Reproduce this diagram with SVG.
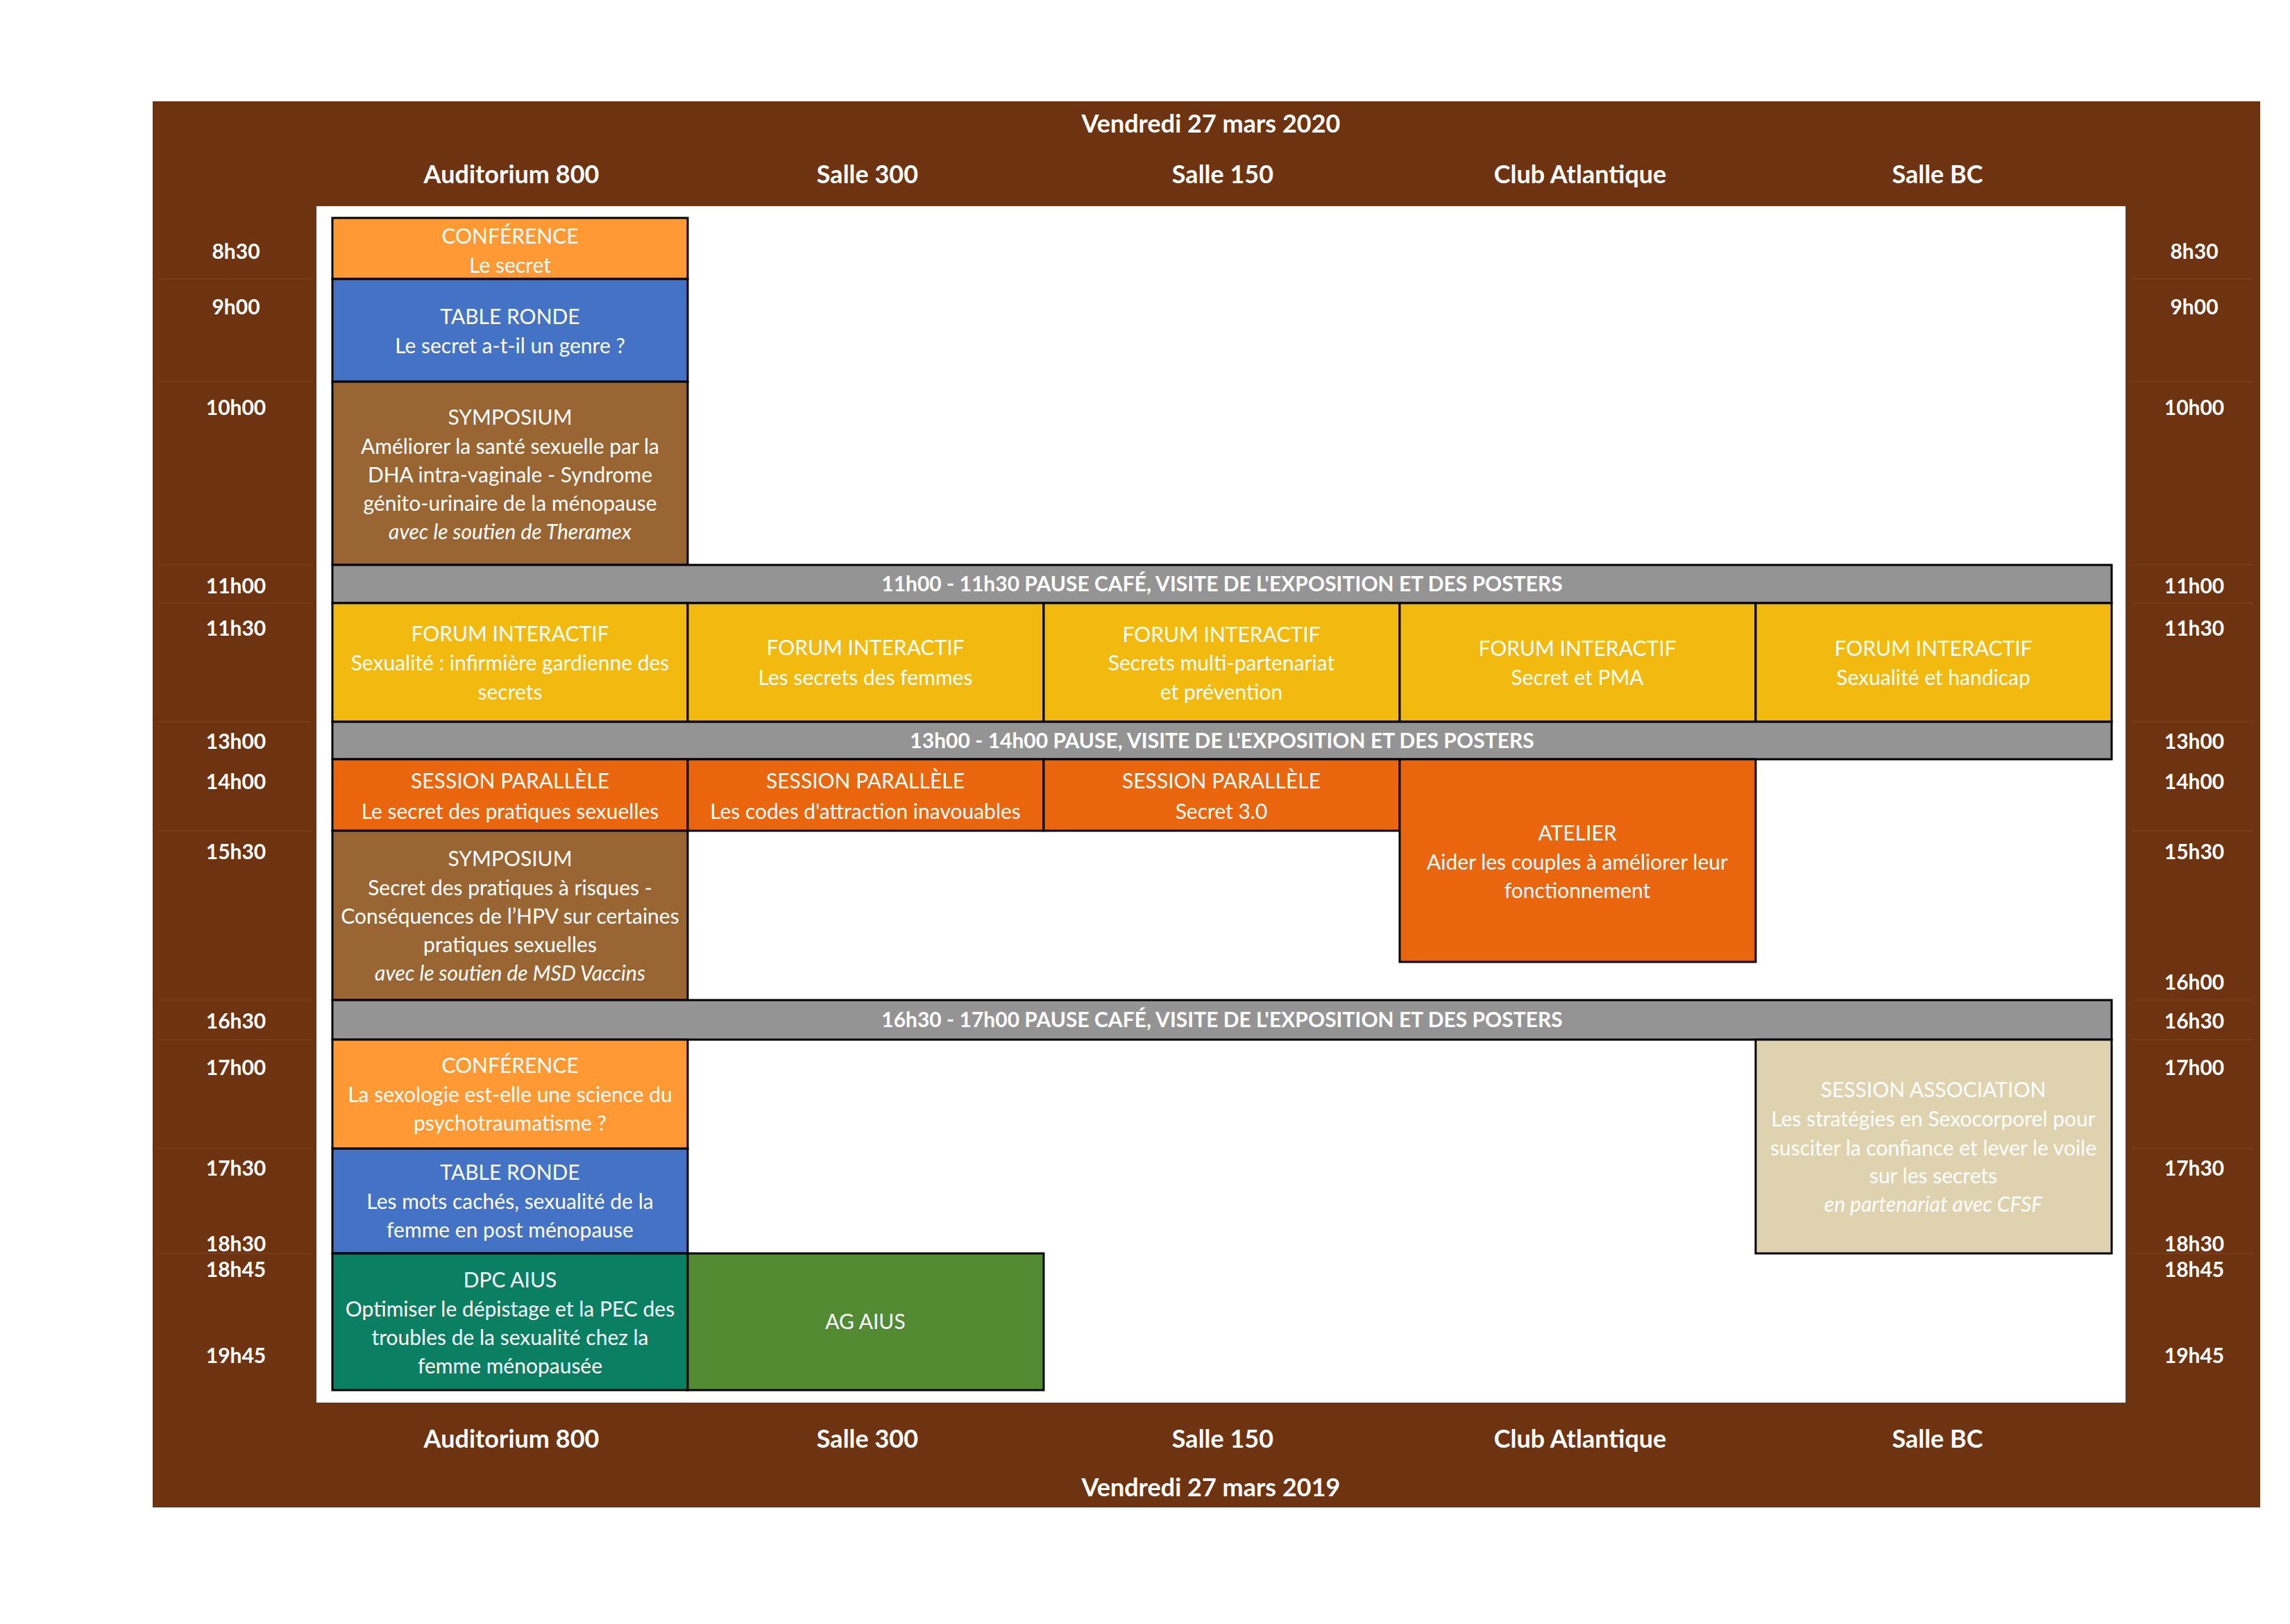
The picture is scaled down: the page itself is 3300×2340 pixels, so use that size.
<svg xmlns="http://www.w3.org/2000/svg" width="3300" height="2340" viewBox="0 0 3300 2340">
<style>
.t{font-family:Lato,"Liberation Sans",sans-serif;font-size:30px;fill:#ffffff;text-anchor:middle}
.hd{font-weight:bold;font-size:36px}
.tm{font-weight:bold;font-size:30px}
.pz{font-weight:bold;font-size:30px}
.it{font-style:italic}
.bx{stroke:#000;stroke-width:3}
.sep{stroke:#7d4320;stroke-width:1.5}
</style>
<rect x="0" y="0" width="3300" height="2340" fill="#ffffff"/>
<g id="frame">
<rect x="220" y="146" width="3037" height="2026" fill="#6e3311"/>
<rect x="456" y="297" width="2607" height="1724" fill="#ffffff"/>
</g>
<g id="headers">
<text class="t hd" x="1745" y="191">Vendredi 27 mars 2020</text>
<text class="t hd" x="737" y="264">Auditorium 800</text>
<text class="t hd" x="1250" y="264">Salle 300</text>
<text class="t hd" x="1762" y="264">Salle 150</text>
<text class="t hd" x="2277" y="264">Club Atlantique</text>
<text class="t hd" x="2792" y="264">Salle BC</text>
<text class="t hd" x="737" y="2086">Auditorium 800</text>
<text class="t hd" x="1250" y="2086">Salle 300</text>
<text class="t hd" x="1762" y="2086">Salle 150</text>
<text class="t hd" x="2277" y="2086">Club Atlantique</text>
<text class="t hd" x="2792" y="2086">Salle BC</text>
<text class="t hd" x="1745" y="2156">Vendredi 27 mars 2019</text>
</g>
<g id="time-lines">
<line class="sep" x1="229" y1="402" x2="449" y2="402"/>
<line class="sep" x1="229" y1="550" x2="449" y2="550"/>
<line class="sep" x1="229" y1="814" x2="449" y2="814"/>
<line class="sep" x1="229" y1="869" x2="449" y2="869"/>
<line class="sep" x1="229" y1="1040" x2="449" y2="1040"/>
<line class="sep" x1="229" y1="1197" x2="449" y2="1197"/>
<line class="sep" x1="229" y1="1441" x2="449" y2="1441"/>
<line class="sep" x1="229" y1="1498" x2="449" y2="1498"/>
<line class="sep" x1="229" y1="1655" x2="449" y2="1655"/>
<line class="sep" x1="229" y1="1806" x2="449" y2="1806"/>
<line class="sep" x1="3072" y1="402" x2="3247" y2="402"/>
<line class="sep" x1="3072" y1="550" x2="3247" y2="550"/>
<line class="sep" x1="3072" y1="814" x2="3247" y2="814"/>
<line class="sep" x1="3072" y1="869" x2="3247" y2="869"/>
<line class="sep" x1="3072" y1="1040" x2="3247" y2="1040"/>
<line class="sep" x1="3072" y1="1197" x2="3247" y2="1197"/>
<line class="sep" x1="3072" y1="1441" x2="3247" y2="1441"/>
<line class="sep" x1="3072" y1="1498" x2="3247" y2="1498"/>
<line class="sep" x1="3072" y1="1655" x2="3247" y2="1655"/>
<line class="sep" x1="3072" y1="1806" x2="3247" y2="1806"/>
</g>
<g id="times-left">
<text class="t tm" x="340" y="373">8h30</text>
<text class="t tm" x="340" y="453">9h00</text>
<text class="t tm" x="340" y="598">10h00</text>
<text class="t tm" x="340" y="855">11h00</text>
<text class="t tm" x="340" y="916">11h30</text>
<text class="t tm" x="340" y="1079">13h00</text>
<text class="t tm" x="340" y="1137">14h00</text>
<text class="t tm" x="340" y="1238">15h30</text>
<text class="t tm" x="340" y="1482">16h30</text>
<text class="t tm" x="340" y="1549">17h00</text>
<text class="t tm" x="340" y="1694">17h30</text>
<text class="t tm" x="340" y="1803">18h30</text>
<text class="t tm" x="340" y="1840">18h45</text>
<text class="t tm" x="340" y="1964">19h45</text>
</g>
<g id="times-right">
<text class="t tm" x="3162" y="373">8h30</text>
<text class="t tm" x="3162" y="453">9h00</text>
<text class="t tm" x="3162" y="598">10h00</text>
<text class="t tm" x="3162" y="855">11h00</text>
<text class="t tm" x="3162" y="916">11h30</text>
<text class="t tm" x="3162" y="1079">13h00</text>
<text class="t tm" x="3162" y="1137">14h00</text>
<text class="t tm" x="3162" y="1238">15h30</text>
<text class="t tm" x="3162" y="1426">16h00</text>
<text class="t tm" x="3162" y="1482">16h30</text>
<text class="t tm" x="3162" y="1549">17h00</text>
<text class="t tm" x="3162" y="1694">17h30</text>
<text class="t tm" x="3162" y="1803">18h30</text>
<text class="t tm" x="3162" y="1840">18h45</text>
<text class="t tm" x="3162" y="1964">19h45</text>
</g>
<g id="conf1">
<rect class="bx" x="479" y="314" width="512" height="88" fill="#ff9933"/>
<text class="t" x="735" y="351">CONFÉRENCE</text>
<text class="t" x="735" y="393">Le secret</text>
</g>
<g id="table1">
<rect class="bx" x="479" y="402" width="512" height="148" fill="#4472c4"/>
<text class="t" x="735" y="467">TABLE RONDE</text>
<text class="t" x="735" y="509">Le secret a-t-il un genre ?</text>
</g>
<g id="symp1">
<rect class="bx" x="479" y="550" width="512" height="264" fill="#996633"/>
<text class="t" x="735" y="612">SYMPOSIUM</text>
<text class="t" x="735" y="654">Améliorer la santé sexuelle par la</text>
<text class="t" x="735" y="695">DHA intra-vaginale - Syndrome</text>
<text class="t" x="735" y="736">génito-urinaire de la ménopause</text>
<text class="t it" x="735" y="777">avec le soutien de Theramex</text>
</g>
<g id="pause1">
<rect class="bx" x="479" y="814" width="2564" height="55" fill="#949494"/>
<text class="t pz" x="1761" y="852">11h00 - 11h30 PAUSE CAFÉ, VISITE DE L'EXPOSITION ET DES POSTERS</text>
</g>
<g id="forum1">
<rect class="bx" x="479" y="869" width="512" height="171" fill="#f2b90e"/>
<text class="t" x="735" y="924">FORUM INTERACTIF</text>
<text class="t" x="735" y="966">Sexualité : infirmière gardienne des</text>
<text class="t" x="735" y="1008">secrets</text>
</g>
<g id="forum2">
<rect class="bx" x="991" y="869" width="513" height="171" fill="#f2b90e"/>
<text class="t" x="1247" y="944">FORUM INTERACTIF</text>
<text class="t" x="1247" y="987">Les secrets des femmes</text>
</g>
<g id="forum3">
<rect class="bx" x="1504" y="869" width="513" height="171" fill="#f2b90e"/>
<text class="t" x="1760" y="925">FORUM INTERACTIF</text>
<text class="t" x="1760" y="966">Secrets multi-partenariat</text>
<text class="t" x="1760" y="1008">et prévention</text>
</g>
<g id="forum4">
<rect class="bx" x="2017" y="869" width="513" height="171" fill="#f2b90e"/>
<text class="t" x="2273" y="945">FORUM INTERACTIF</text>
<text class="t" x="2273" y="987">Secret et PMA</text>
</g>
<g id="forum5">
<rect class="bx" x="2530" y="869" width="513" height="171" fill="#f2b90e"/>
<text class="t" x="2786" y="945">FORUM INTERACTIF</text>
<text class="t" x="2786" y="987">Sexualité et handicap</text>
</g>
<g id="pause2">
<rect class="bx" x="479" y="1040" width="2564" height="54" fill="#949494"/>
<text class="t pz" x="1761" y="1078">13h00 - 14h00 PAUSE, VISITE DE L'EXPOSITION ET DES POSTERS</text>
</g>
<g id="session1">
<rect class="bx" x="479" y="1094" width="512" height="103" fill="#ea660e"/>
<text class="t" x="735" y="1136">SESSION PARALLÈLE</text>
<text class="t" x="735" y="1180">Le secret des pratiques sexuelles</text>
</g>
<g id="session2">
<rect class="bx" x="991" y="1094" width="513" height="103" fill="#ea660e"/>
<text class="t" x="1247" y="1136">SESSION PARALLÈLE</text>
<text class="t" x="1247" y="1180">Les codes d'attraction inavouables</text>
</g>
<g id="session3">
<rect class="bx" x="1504" y="1094" width="513" height="103" fill="#ea660e"/>
<text class="t" x="1760" y="1136">SESSION PARALLÈLE</text>
<text class="t" x="1760" y="1180">Secret 3.0</text>
</g>
<g id="atelier">
<rect class="bx" x="2017" y="1094" width="513" height="292" fill="#ea660e"/>
<text class="t" x="2273" y="1211">ATELIER</text>
<text class="t" x="2273" y="1253">Aider les couples à améliorer leur</text>
<text class="t" x="2273" y="1294">fonctionnement</text>
</g>
<g id="symp2">
<rect class="bx" x="479" y="1197" width="512" height="244" fill="#996633"/>
<text class="t" x="735" y="1248">SYMPOSIUM</text>
<text class="t" x="735" y="1290">Secret des pratiques à risques -</text>
<text class="t" x="735" y="1331">Conséquences de l’HPV sur certaines</text>
<text class="t" x="735" y="1372">pratiques sexuelles</text>
<text class="t it" x="735" y="1413">avec le soutien de MSD Vaccins</text>
</g>
<g id="pause3">
<rect class="bx" x="479" y="1441" width="2564" height="57" fill="#949494"/>
<text class="t pz" x="1761" y="1480">16h30 - 17h00 PAUSE CAFÉ, VISITE DE L'EXPOSITION ET DES POSTERS</text>
</g>
<g id="conf2">
<rect class="bx" x="479" y="1498" width="512" height="157" fill="#ff9933"/>
<text class="t" x="735" y="1546">CONFÉRENCE</text>
<text class="t" x="735" y="1588">La sexologie est-elle une science du</text>
<text class="t" x="735" y="1629">psychotraumatisme ?</text>
</g>
<g id="table2">
<rect class="bx" x="479" y="1655" width="512" height="151" fill="#4472c4"/>
<text class="t" x="735" y="1700">TABLE RONDE</text>
<text class="t" x="735" y="1742">Les mots cachés, sexualité de la</text>
<text class="t" x="735" y="1783">femme en post ménopause</text>
</g>
<g id="association">
<rect class="bx" x="2530" y="1498" width="513" height="308" fill="#dfd2ae"/>
<text class="t" x="2786" y="1581">SESSION ASSOCIATION</text>
<text class="t" x="2786" y="1623">Les stratégies en Sexocorporel pour</text>
<text class="t" x="2786" y="1665">susciter la confiance et lever le voile</text>
<text class="t" x="2786" y="1705">sur les secrets</text>
<text class="t it" x="2786" y="1746">en partenariat avec CFSF</text>
</g>
<g id="dpc">
<rect class="bx" x="479" y="1806" width="512" height="197" fill="#0b7f62"/>
<text class="t" x="735" y="1855">DPC AIUS</text>
<text class="t" x="735" y="1897">Optimiser le dépistage et la PEC des</text>
<text class="t" x="735" y="1938">troubles de la sexualité chez la</text>
<text class="t" x="735" y="1979">femme ménopausée</text>
</g>
<g id="ag">
<rect class="bx" x="991" y="1806" width="513" height="197" fill="#528b32"/>
<text class="t" x="1247" y="1915">AG AIUS</text>
</g>
<g id="connectors"></g>
</svg>
